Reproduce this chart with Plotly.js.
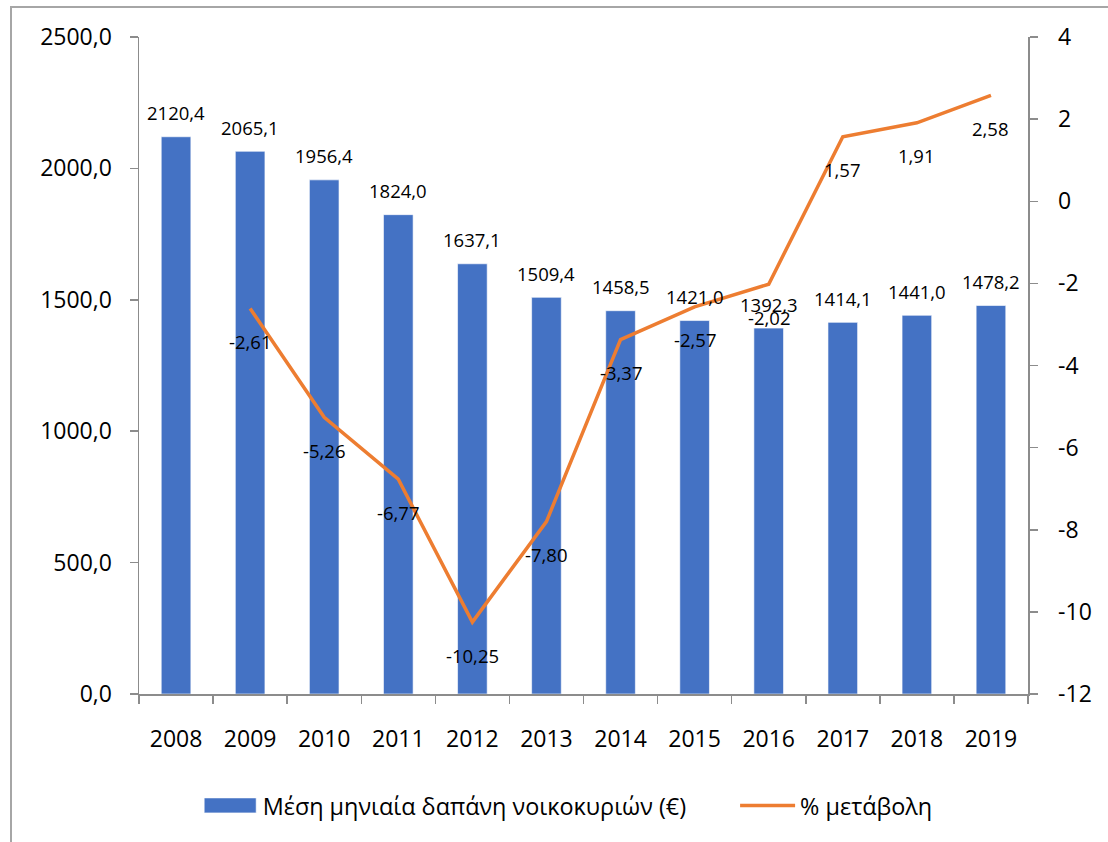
<!DOCTYPE html>
<html>
<head>
<meta charset="utf-8">
<script src="https://cdn.plot.ly/plotly-3.0.1.min.js"></script>
<style>
  html, body { margin: 0; padding: 0; background: #ffffff; }
  #wrap { position: relative; width: 1108px; height: 842px; overflow: hidden; }
  #chart { position: absolute; left: 0; top: 0; width: 1108px; height: 842px; }
  #frame { position: absolute; left: 10px; top: 6px; width: 1200px; height: 900px;
           border-left: 2px solid #a6a6a6; border-top: 2px solid #a6a6a6; pointer-events: none; }
</style>
</head>
<body>
<div id="wrap">
  <div id="chart"></div>
  <div id="frame"></div>
</div>
<script>
// ---- data ----
const years = ['2008','2009','2010','2011','2012','2013','2014','2015','2016','2017','2018','2019'];
const spending = [2120.4, 2065.1, 1956.4, 1824.0, 1637.1, 1509.4, 1458.5, 1421.0, 1392.3, 1414.1, 1441.0, 1478.2];
const pctChange = [null, -2.61, -5.26, -6.77, -10.25, -7.80, -3.37, -2.57, -2.02, 1.57, 1.91, 2.58];
const leftTickVals = [0, 500, 1000, 1500, 2000, 2500];
const leftTickText = ['0,0', '500,0', '1000,0', '1500,0', '2000,0', '2500,0'];
const rightTickVals = [-12, -10, -8, -6, -4, -2, 0, 2, 4];
const rightTickText = ['-12', '-10', '-8', '-6', '-4', '-2', '0', '2', '4'];
const seriesNames = ['Μέση μηνιαία δαπάνη νοικοκυριών (€)', '% μετάβολη'];

// ---- styles ----
const FONT = '"Open Sans", "Noto Sans", "DejaVu Sans", sans-serif';
const BLUE = '#4472C4';
const ORANGE = '#ED7D31';
const AXIS = '#8c8c8c';

const fmt = (v, d) => v.toFixed(d).replace('.', ',');

const annotations = [];
years.forEach((yr, i) => {
  // category axis: annotation x is the category's serial index
  annotations.push({
    x: i, y: spending[i], xref: 'x', yref: 'y',
    text: fmt(spending[i], 1), showarrow: false,
    yanchor: 'middle', xanchor: 'center', yshift: 24,
    font: { family: FONT, size: 18.5, color: '#000000' }
  });
  if (pctChange[i] !== null) {
    annotations.push({
      x: i, y: pctChange[i], xref: 'x', yref: 'y2',
      text: fmt(pctChange[i], 2), showarrow: false,
      yanchor: 'middle', xanchor: 'center', yshift: -33,
      font: { family: FONT, size: 18.5, color: '#000000' }
    });
  }
});

const traces = [
  {
    type: 'bar', name: seriesNames[0], x: years, y: spending,
    marker: { color: BLUE, line: { color: 'rgba(255,255,255,0.6)', width: 1 } },
    yaxis: 'y', hoverinfo: 'skip'
  },
  {
    type: 'scatter', mode: 'lines', name: seriesNames[1], x: years, y: pctChange,
    line: { color: ORANGE, width: 3.5 }, yaxis: 'y2', connectgaps: false, hoverinfo: 'skip'
  }
];

const layout = {
  width: 1108, height: 842,
  margin: { l: 139, r: 80, t: 37, b: 148 },
  paper_bgcolor: '#ffffff', plot_bgcolor: '#ffffff',
  font: { family: FONT, size: 23, color: '#000000' },
  separators: ',.',
  bargap: 0.6,
  showlegend: true,
  legend: {
    orientation: 'h', x: 0.066, xanchor: 'left', y: -0.17, yanchor: 'middle',
    font: { family: FONT, size: 23.4, color: '#000000' },
    itemwidth: 55, traceorder: 'normal'
  },
  xaxis: {
    type: 'category', categoryorder: 'array', categoryarray: years,
    range: [-0.5, years.length - 0.5],
    showline: true, linecolor: AXIS, linewidth: 1.5,
    ticks: 'outside', ticklen: 8, tickcolor: AXIS, tickwidth: 1.5,
    tickson: 'boundaries', showgrid: false, zeroline: false,
    tickangle: 0, ticklabelstandoff: 24,
    tickfont: { family: FONT, size: 23, color: '#000000' }
  },
  yaxis: {
    range: [0, 2500], tickvals: leftTickVals, ticktext: leftTickText,
    showline: true, linecolor: AXIS, linewidth: 1.5,
    ticks: 'outside', ticklen: 8, tickcolor: AXIS, tickwidth: 1.5,
    showgrid: false, zeroline: false, ticklabelstandoff: 13,
    tickfont: { family: FONT, size: 23, color: '#000000' }
  },
  yaxis2: {
    range: [-12, 4], tickvals: rightTickVals, ticktext: rightTickText,
    overlaying: 'y', side: 'right',
    showline: true, linecolor: AXIS, linewidth: 1.5,
    ticks: 'outside', ticklen: 8, tickcolor: AXIS, tickwidth: 1.5,
    showgrid: false, zeroline: false, ticklabelstandoff: 16,
    tickfont: { family: FONT, size: 23, color: '#000000' }
  },
  annotations: annotations
};

function parseTranslate(el) {
  const m = /translate\(\s*([-\d.e]+)[ ,]+([-\d.e]+)\s*\)/.exec(el.getAttribute('transform') || '');
  return m ? [parseFloat(m[1]), parseFloat(m[2])] : [0, 0];
}

Plotly.newPlot('chart', traces, layout, { staticPlot: true, displayModeBar: false }).then(gd => {
  const groups = gd.querySelectorAll('.legend .traces');
  if (!groups.length) return;
  // let the legend entries extend beyond the auto-sized legend box
  gd.querySelectorAll('.legend [clip-path]').forEach(el => el.removeAttribute('clip-path'));
  // widen the bar legend swatch to a flat rectangle like the original
  const p = groups[0].querySelector('.legendpoints path');
  if (p) p.setAttribute('d', 'M26,7.5H-26V-7.5H26Z');
  // wider gap between the two legend entries, as in the original
  if (groups.length > 1) {
    const t0 = groups[0].querySelector('text.legendtext');
    const [x0] = parseTranslate(groups[0]);
    const [, y1] = parseTranslate(groups[1]);
    if (t0) {
      const textRight = parseFloat(t0.getAttribute('x') || 0) + t0.getComputedTextLength();
      groups[1].setAttribute('transform', 'translate(' + (x0 + textRight + 49) + ',' + y1 + ')');
    }
  }
});
</script>
</body>
</html>
